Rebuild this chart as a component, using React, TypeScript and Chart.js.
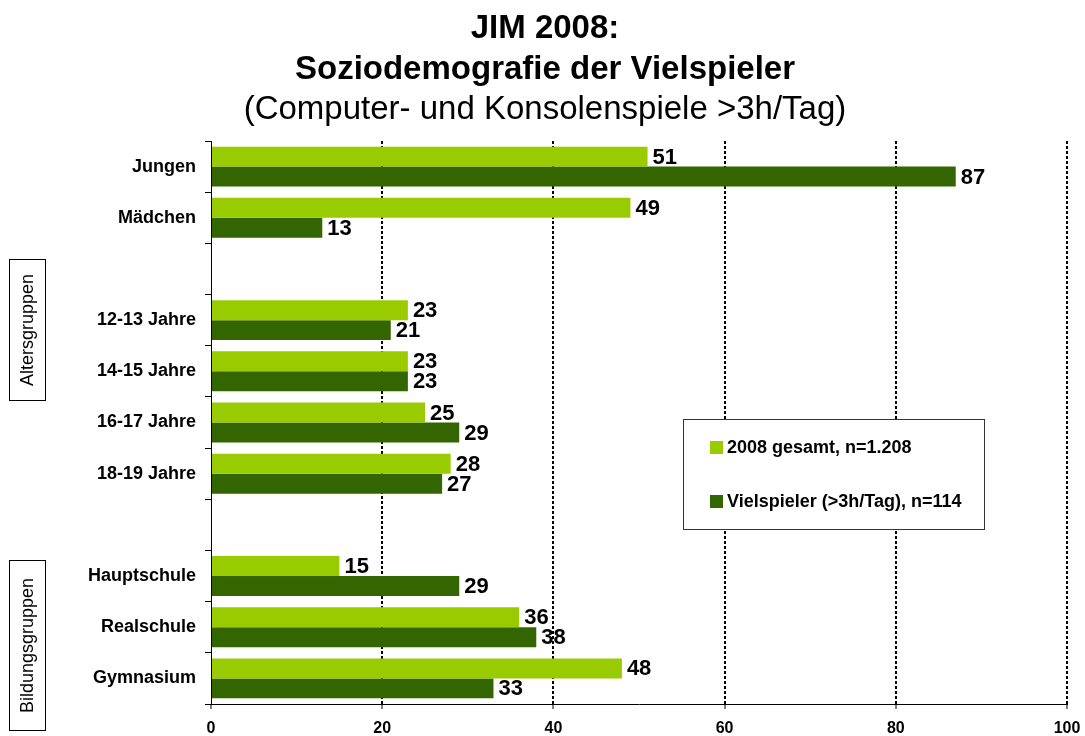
import React, { useEffect, useRef } from "react";
import { Chart, registerables } from "chart.js";

Chart.register(...registerables);

const FONT = "'Liberation Sans', Arial, sans-serif";

const categories = [
  "Jungen",
  "Mädchen",
  "",
  "12-13 Jahre",
  "14-15 Jahre",
  "16-17 Jahre",
  "18-19 Jahre",
  "",
  "Hauptschule",
  "Realschule",
  "Gymnasium",
];

const seriesNames = ["2008 gesamt, n=1.208", "Vielspieler (>3h/Tag), n=114"];
const gesamt = [51, 49, null, 23, 23, 25, 28, null, 15, 36, 48];
const vielspieler = [87, 13, null, 21, 23, 29, 27, null, 29, 38, 33];
const seriesColors = ["#99CC00", "#336600"];

const titleLines = ["JIM 2008:", "Soziodemografie der Vielspieler", "(Computer- und Konsolenspiele >3h/Tag)"];
const groupLabels = ["Altersgruppen", "Bildungsgruppen"];
const xTicks = [0, 20, 40, 60, 80, 100];

const overlayPlugin = {
  id: "overlay",
  afterDraw(chart: any) {
    const ctx = chart.ctx;
    ctx.save();
    // Title
    ctx.fillStyle = "#000";
    ctx.textAlign = "center";
    ctx.textBaseline = "alphabetic";
    ctx.font = `bold 33px ${FONT}`;
    ctx.fillText(titleLines[0], 545, 38);
    ctx.fillText(titleLines[1], 545, 79);
    ctx.font = `33px ${FONT}`;
    ctx.fillText(titleLines[2], 545, 119);

    // Group boxes
    const boxes = [
      { x: 9.5, y: 259.5, w: 36, h: 141, text: groupLabels[0] },
      { x: 9.5, y: 560.5, w: 36, h: 170, text: groupLabels[1] },
    ];
    ctx.lineWidth = 1;
    ctx.strokeStyle = "#000";
    for (const b of boxes) {
      ctx.strokeRect(b.x, b.y, b.w, b.h);
      ctx.save();
      ctx.translate(b.x + b.w / 2, b.y + b.h / 2);
      ctx.rotate(-Math.PI / 2);
      ctx.font = `18px ${FONT}`;
      ctx.textAlign = "center";
      ctx.textBaseline = "middle";
      ctx.fillText(b.text, 0, 1);
      ctx.restore();
    }

    // Legend
    ctx.fillStyle = "#fff";
    ctx.fillRect(683, 419, 301, 110);
    ctx.strokeStyle = "#333";
    ctx.strokeRect(683.5, 419.5, 301, 110);
    const items = [
      { y: 447, color: seriesColors[0], text: seriesNames[0] },
      { y: 501, color: seriesColors[1], text: seriesNames[1] },
    ];
    for (const it of items) {
      ctx.fillStyle = it.color;
      ctx.fillRect(710, it.y - 6, 13, 13);
      ctx.fillStyle = "#000";
      ctx.font = `bold 18px ${FONT}`;
      ctx.textAlign = "left";
      ctx.textBaseline = "middle";
      ctx.fillText(it.text, 727, it.y + 1);
    }
    ctx.restore();
  },
  afterDatasetsDraw(chart: any) {
    const ctx = chart.ctx;
    ctx.save();
    ctx.fillStyle = "#000";
    ctx.font = `bold 22px ${FONT}`;
    ctx.textAlign = "left";
    ctx.textBaseline = "middle";
    chart.data.datasets.forEach((ds: any, di: number) => {
      const meta = chart.getDatasetMeta(di);
      meta.data.forEach((el: any, i: number) => {
        const v = ds.data[i];
        if (v === null || v === undefined) return;
        ctx.fillText(String(v), el.x + 5, el.y + 1);
      });
    });
    ctx.restore();
  },
};

export default function App() {
  const ref = useRef<HTMLCanvasElement | null>(null);
  useEffect(() => {
    if (!ref.current) return;
    Chart.defaults.font.family = FONT;
    const chart = new Chart(ref.current, {
      type: "bar",
      data: {
        labels: categories,
        datasets: [
          { label: seriesNames[0], data: gesamt, backgroundColor: seriesColors[0], categoryPercentage: 0.78, barPercentage: 1 },
          { label: seriesNames[1], data: vielspieler, backgroundColor: seriesColors[1], categoryPercentage: 0.78, barPercentage: 1 },
        ],
      },
      options: {
        indexAxis: "y",
        animation: false,
        responsive: false,
        maintainAspectRatio: false,
        layout: { padding: { top: 141, right: 18, left: 0, bottom: 0 } },
        plugins: { legend: { display: false }, title: { display: false }, tooltip: { enabled: false } },
        scales: {
          x: {
            min: 0,
            max: 100,
            afterBuildTicks: (scale: any) => {
              scale.ticks = xTicks.map((v) => ({ value: v }));
            },
            afterFit: (scale: any) => {
              scale.height = 32;
              scale.paddingLeft = 0;
              scale.paddingRight = 0;
            },
            grid: {
              color: (c: any) => (c.tick && c.tick.value === 0 ? "rgba(0,0,0,0)" : "#000"),
              lineWidth: 2,
              tickColor: "#000",
              tickWidth: 1,
              tickLength: 5,
              tickBorderDash: [],
            },
            border: { display: true, color: "#000", width: 1, dash: [3, 2] },
            ticks: {
              color: "#000",
              font: { size: 16, weight: "bold", family: FONT },
              padding: 10,
            },
          },
          y: {
            afterFit: (scale: any) => {
              scale.width = 211;
              scale.paddingTop = 0;
              scale.paddingBottom = 0;
            },
            grid: { drawOnChartArea: false, color: "#000", tickLength: 6, offset: true },
            border: { display: true, color: "#000", width: 1 },
            ticks: {
              color: "#000",
              font: { size: 18, weight: "bold", family: FONT },
              padding: 9,
            },
          },
        },
      },
      plugins: [overlayPlugin],
    } as any);
    return () => chart.destroy();
  }, []);
  return (
    <div style={{ position: "absolute", left: 0, top: 0, width: 1085, height: 736, background: "#fff" }}>
      <canvas ref={ref} width={1085} height={736} style={{ width: 1085, height: 736, display: "block" }} />
    </div>
  );
}
